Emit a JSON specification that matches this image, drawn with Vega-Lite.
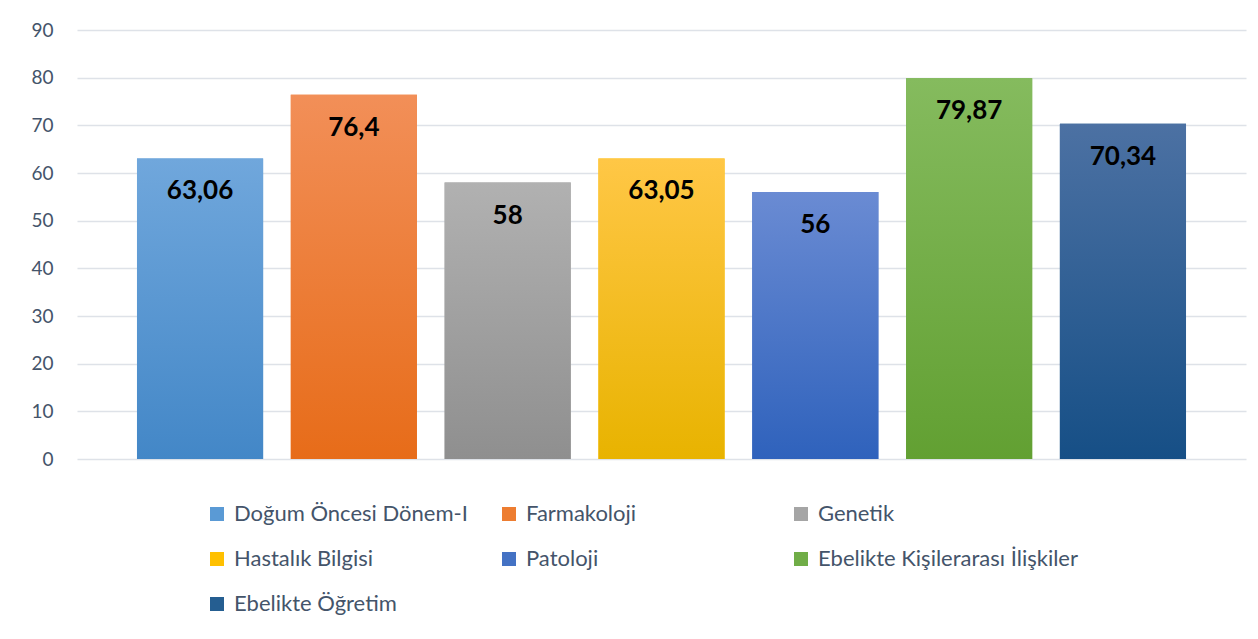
{
  "$schema": "https://vega.github.io/schema/vega-lite/v6.json",
  "width": 1169,
  "height": 429,
  "autosize": {"type": "none"},
  "padding": {"left": 77, "top": 30, "right": 12, "bottom": 180},
  "background": "white",
  "config": {
    "font": "Lato",
    "view": {"stroke": null},
    "locale": {"number": {"decimal": ",", "thousands": ".", "grouping": [3], "currency": ["", " TL"]}}
  },
  "data": {
    "values": [
      {"ders": "Doğum Öncesi Dönem-I", "puan": 63.06},
      {"ders": "Farmakoloji", "puan": 76.4},
      {"ders": "Genetik", "puan": 58},
      {"ders": "Hastalık Bilgisi", "puan": 63.05},
      {"ders": "Patoloji", "puan": 56},
      {"ders": "Ebelikte Kişilerarası İlişkiler", "puan": 79.87},
      {"ders": "Ebelikte Öğretim", "puan": 70.34}
    ]
  },
  "encoding": {
    "x": {
      "field": "ders",
      "type": "nominal",
      "sort": null,
      "scale": {"paddingInner": 0.18, "paddingOuter": 0.39},
      "axis": null
    },
    "y": {
      "field": "puan",
      "type": "quantitative",
      "scale": {"domain": [0, 90], "nice": false},
      "axis": {
        "title": null,
        "values": [0, 10, 20, 30, 40, 50, 60, 70, 80, 90],
        "domain": false,
        "ticks": false,
        "labelPadding": 24,
        "labelFontSize": 19,
        "labelColor": "#44546A",
        "labelFont": "Lato",
        "gridColor": "#DEE2E8",
        "gridWidth": 1.5
      }
    }
  },
  "layer": [
    {
      "mark": {"type": "bar"},
      "encoding": {
        "color": {
          "field": "ders",
          "type": "nominal",
          "sort": null,
          "scale": {
            "domain": ["Doğum Öncesi Dönem-I", "Farmakoloji", "Genetik", "Hastalık Bilgisi", "Patoloji", "Ebelikte Kişilerarası İlişkiler", "Ebelikte Öğretim"],
            "range": ["#5A9AD5", "#ED7D31", "#A5A5A5", "#FFC000", "#4472C4", "#70AD47", "#255E91"]
          },
          "legend": {
            "title": null,
            "orient": "none",
            "legendX": 129,
            "legendY": 473,
            "direction": "horizontal",
            "columns": 3,
            "gridAlign": "all",
            "columnPadding": 4,
            "rowPadding": 23,
            "padding": 0,
            "symbolType": "square",
            "symbolSize": 196,
            "symbolStrokeWidth": 0,
            "labelOffset": 6,
            "labelFontSize": 22,
            "labelFont": "Lato",
            "labelColor": "#44546A",
            "labelLimit": 400
          }
        }
      }
    },
    {
      "mark": {"type": "bar"},
      "encoding": {
        "fill": {
          "condition": [
            {"test": "datum.ders === 'Doğum Öncesi Dönem-I'", "value": {"gradient": "linear", "x1": 0, "y1": 0, "x2": 0, "y2": 1, "stops": [{"offset": 0, "color": "#70A7DC"}, {"offset": 1, "color": "#4387C7"}]}},
            {"test": "datum.ders === 'Farmakoloji'", "value": {"gradient": "linear", "x1": 0, "y1": 0, "x2": 0, "y2": 1, "stops": [{"offset": 0, "color": "#F28F58"}, {"offset": 1, "color": "#E76C19"}]}},
            {"test": "datum.ders === 'Genetik'", "value": {"gradient": "linear", "x1": 0, "y1": 0, "x2": 0, "y2": 1, "stops": [{"offset": 0, "color": "#B1B1B1"}, {"offset": 1, "color": "#8F8F8F"}]}},
            {"test": "datum.ders === 'Hastalık Bilgisi'", "value": {"gradient": "linear", "x1": 0, "y1": 0, "x2": 0, "y2": 1, "stops": [{"offset": 0, "color": "#FFC746"}, {"offset": 1, "color": "#E8B300"}]}},
            {"test": "datum.ders === 'Patoloji'", "value": {"gradient": "linear", "x1": 0, "y1": 0, "x2": 0, "y2": 1, "stops": [{"offset": 0, "color": "#6A8BD3"}, {"offset": 1, "color": "#2F62BC"}]}},
            {"test": "datum.ders === 'Ebelikte Kişilerarası İlişkiler'", "value": {"gradient": "linear", "x1": 0, "y1": 0, "x2": 0, "y2": 1, "stops": [{"offset": 0, "color": "#85BB5E"}, {"offset": 1, "color": "#62A032"}]}}
          ],
          "value": {"gradient": "linear", "x1": 0, "y1": 0, "x2": 0, "y2": 1, "stops": [{"offset": 0, "color": "#4C71A3"}, {"offset": 1, "color": "#164F86"}]}
        }
      }
    },
    {
      "mark": {"type": "text", "baseline": "middle", "align": "center", "dy": 33, "fontSize": 26, "fontWeight": "bold", "font": "Lato", "color": "#000000"},
      "encoding": {
        "text": {"field": "puan", "type": "quantitative", "format": "~g"}
      }
    }
  ]
}
